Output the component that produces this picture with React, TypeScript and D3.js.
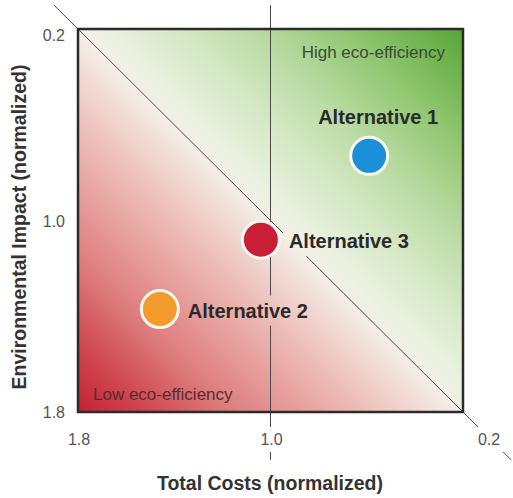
import React, { useEffect, useRef } from "react";
import * as d3 from "d3";

const W = 513;
const H = 498;

// Axis ticks
const xTicks = [1.8, 1.0, 0.2];
const yTicks = [0.2, 1.0, 1.8];

// Alternatives
const altNames = ["Alternative 1", "Alternative 2", "Alternative 3"];
const altCost = [0.59, 1.46, 1.04];
const altImpact = [0.73, 1.37, 1.08];
const altColors = ["#1b90d8", "#f39b2c", "#c81f37"];
const altLabelPos = ["above", "right", "right"];

const regionLabels = ["High eco-efficiency", "Low eco-efficiency"];

const FONT = "'Liberation Sans', Arial, Helvetica, sans-serif";

export default function App() {
  const ref = useRef<SVGSVGElement | null>(null);

  useEffect(() => {
    const svg = d3.select(ref.current);
    svg.selectAll("*").remove();

    const x = d3.scaleLinear().domain([1.8, 0.2]).range([78, 463]);
    const y = d3.scaleLinear().domain([0.2, 1.8]).range([29, 412]);

    const defs = svg.append("defs");
    const grad = defs
      .append("linearGradient")
      .attr("id", "ecoGrad")
      .attr("x1", 0)
      .attr("y1", 1)
      .attr("x2", 1)
      .attr("y2", 0);
    const stops: [number, string][] = [
      [0, "#c32232"],
      [0.1, "#d04b53"],
      [0.2, "#dd7d7d"],
      [0.3, "#e7a29f"],
      [0.4, "#efc8c2"],
      [0.47, "#f3e4de"],
      [0.5, "#f3efe6"],
      [0.54, "#e9f1df"],
      [0.62, "#d6e9c6"],
      [0.72, "#bcdca6"],
      [0.86, "#8bc46b"],
      [1, "#58a536"],
    ];
    stops.forEach(([o, c]) =>
      grad.append("stop").attr("offset", o).attr("stop-color", c)
    );

    const x0 = x(1.8),
      x1 = x(0.2),
      y0 = y(0.2),
      y1 = y(1.8);

    svg
      .append("rect")
      .attr("x", x0)
      .attr("y", y0)
      .attr("width", x1 - x0)
      .attr("height", y1 - y0)
      .attr("fill", "url(#ecoGrad)");

    // Mask for reference lines (gaps around text)
    const mask = defs.append("mask").attr("id", "lineMask").attr("maskUnits", "userSpaceOnUse");
    mask.append("rect").attr("x", 0).attr("y", 0).attr("width", W).attr("height", H).attr("fill", "white");

    const lines = svg.append("g").attr("mask", "url(#lineMask)");
    // diagonal: impact = 2 - cost
    lines
      .append("line")
      .attr("x1", x(1.9))
      .attr("y1", y(0.1))
      .attr("x2", x(0.0))
      .attr("y2", y(2.0))
      .attr("stroke", "#4a4a4a")
      .attr("stroke-width", 1);
    lines
      .append("line")
      .attr("x1", x(1.0))
      .attr("y1", y(0.1))
      .attr("x2", x(1.0))
      .attr("y2", y(2.0))
      .attr("stroke", "#4a4a4a")
      .attr("stroke-width", 1);

    // frame
    svg
      .append("rect")
      .attr("x", x0)
      .attr("y", y0)
      .attr("width", x1 - x0)
      .attr("height", y1 - y0)
      .attr("fill", "none")
      .attr("stroke", "#2b2b2b")
      .attr("stroke-width", 2.5);

    const gapTexts: SVGTextElement[] = [];

    // x ticks
    xTicks.forEach((v, i) => {
      const t = svg
        .append("text")
        .attr("x", x(v) + (i === xTicks.length - 1 ? 26 : 1))
        .attr("y", 445)
        .attr("text-anchor", "middle")
        .attr("font-family", FONT)
        .attr("font-size", 16)
        .attr("fill", "#555")
        .text(v.toFixed(1));
      gapTexts.push(t.node() as SVGTextElement);
    });
    // y ticks
    yTicks.forEach((v, i) => {
      svg
        .append("text")
        .attr("x", 65)
        .attr("y", y(v) + (i === 0 ? 12 : 6))
        .attr("text-anchor", "end")
        .attr("font-family", FONT)
        .attr("font-size", 16)
        .attr("fill", "#555")
        .text(v.toFixed(1));
    });

    // axis titles
    svg
      .append("text")
      .attr("x", 270)
      .attr("y", 490)
      .attr("text-anchor", "middle")
      .attr("font-family", FONT)
      .attr("font-weight", "bold")
      .attr("font-size", 19.5)
      .attr("fill", "#333")
      .text("Total Costs (normalized)");
    svg
      .append("text")
      .attr("transform", "translate(26,227) rotate(-90)")
      .attr("text-anchor", "middle")
      .attr("font-family", FONT)
      .attr("font-weight", "bold")
      .attr("font-size", 19.5)
      .attr("fill", "#333")
      .text("Environmental Impact (normalized)");

    // region labels
    svg
      .append("text")
      .attr("x", x1 - 18)
      .attr("y", y0 + 29)
      .attr("text-anchor", "end")
      .attr("font-family", FONT)
      .attr("font-size", 17)
      .attr("fill", "#3b4a37")
      .text(regionLabels[0]);
    svg
      .append("text")
      .attr("x", x0 + 15)
      .attr("y", y1 - 12)
      .attr("text-anchor", "start")
      .attr("font-family", FONT)
      .attr("font-size", 17)
      .attr("fill", "#5b2b2d")
      .text(regionLabels[1]);

    // alternatives
    altNames.forEach((name, i) => {
      const cx = x(altCost[i]);
      const cy = y(altImpact[i]);
      svg
        .append("circle")
        .attr("cx", cx)
        .attr("cy", cy)
        .attr("r", 18.5)
        .attr("fill", altColors[i])
        .attr("stroke", "#fbf8f0")
        .attr("stroke-width", 3);
      const above = altLabelPos[i] === "above";
      const t = svg
        .append("text")
        .attr("x", above ? cx + 9 : cx + 28)
        .attr("y", above ? cy - 32 : cy + 8.5)
        .attr("text-anchor", above ? "middle" : "start")
        .attr("font-family", FONT)
        .attr("font-weight", "bold")
        .attr("font-size", 20)
        .attr("fill", "#2a2a2a")
        .text(name);
      if (!above) gapTexts.push(t.node() as SVGTextElement);
    });

    // gaps in lines around texts
    const pad = 6;
    gapTexts.forEach((n) => {
      const b = n.getBBox();
      mask
        .append("rect")
        .attr("x", b.x - pad)
        .attr("y", b.y - pad + 2)
        .attr("width", b.width + 2 * pad)
        .attr("height", b.height + 2 * pad - 4)
        .attr("fill", "black");
    });
  }, []);

  return (
    <svg
      ref={ref}
      width={W}
      height={H}
      style={{ position: "absolute", left: 0, top: 0, background: "#fff" }}
    />
  );
}
